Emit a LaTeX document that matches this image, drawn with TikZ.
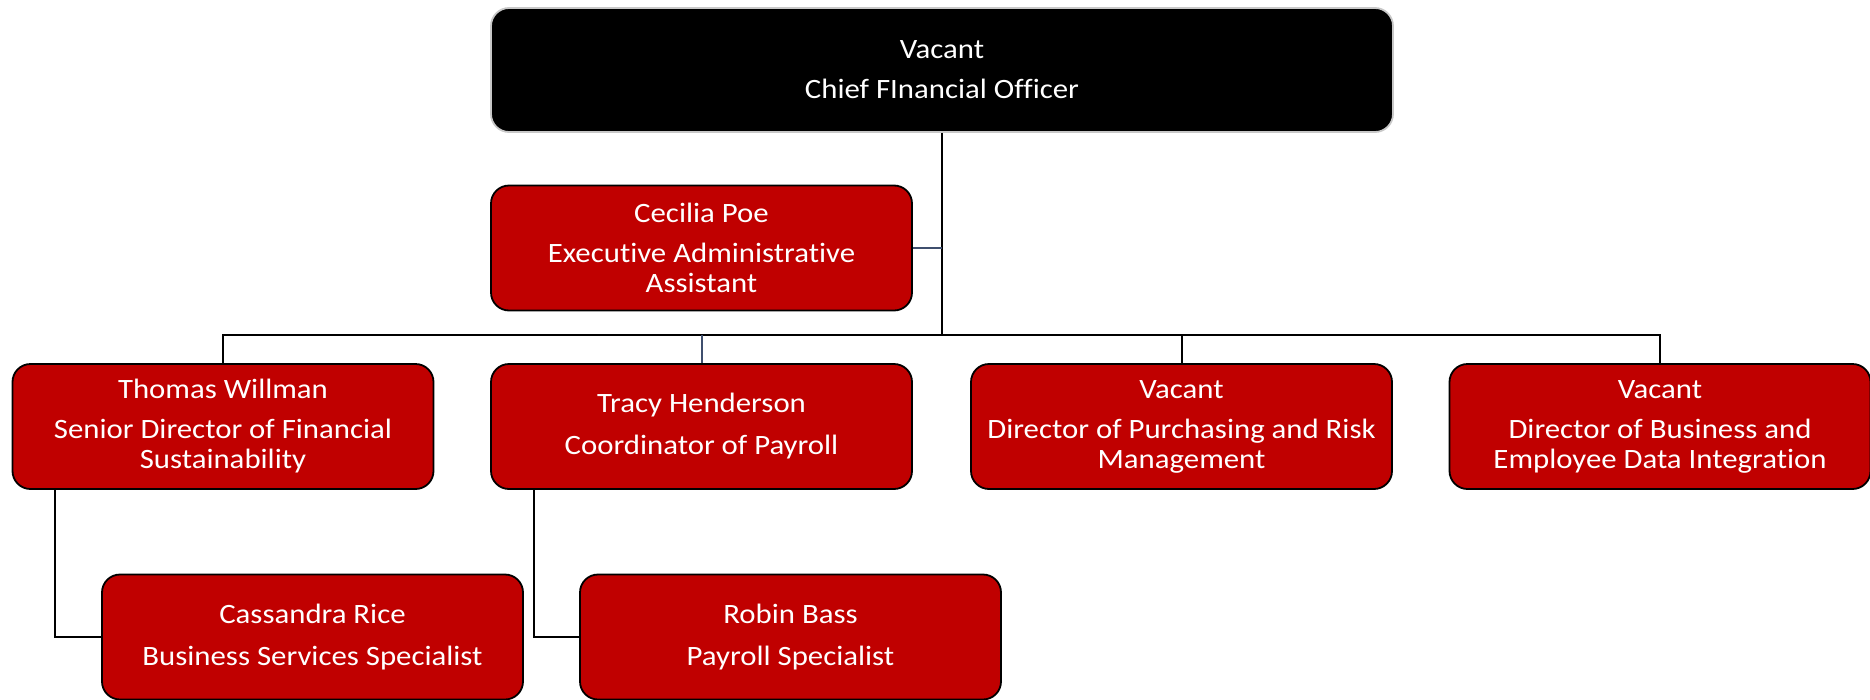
\documentclass[tikz,border=0pt]{standalone}
\usepackage{fontspec}
\setmainfont{Carlito}[FakeStretch=1.1, Ligatures=NoCommon]
\definecolor{boxred}{HTML}{C00000}
\definecolor{linkblue}{HTML}{3F4F6E}
\definecolor{cfoedge}{HTML}{C8C8C8}
\begin{document}
\begin{tikzpicture}[x=1pt,y=-1pt,
  box/.style={draw=black, line width=1.8pt, fill=boxred, rounded corners=18pt,
    minimum width=421pt, minimum height=125pt, text=white, align=center,
    font=\fontsize{28}{30}\selectfont, inner sep=0pt},
  topbox/.style={box, fill=black, draw=cfoedge, minimum width=902pt, minimum height=124pt},
  link/.style={line width=2pt, draw=black},
  bluelink/.style={line width=2pt, draw=linkblue}]
\useasboundingbox (0,0) rectangle (1870,699);

\node[topbox] (cfo) at (942,70) {Vacant\\[10pt]Chief FInancial Officer};
\node[box] (asst) at (701.5,248) {Cecilia Poe\\[10pt]Executive Administrative\\Assistant};

\node[box] (d1) at (223,426.5) {Thomas Willman\\[10pt]Senior Director of Financial\\Sustainability};
\node[box] (d2) at (701.5,426.5) {Tracy Henderson\\[12pt]Coordinator of Payroll};
\node[box] (d3) at (1181.5,426.5) {Vacant\\[10pt]Director of Purchasing and Risk\\Management};
\node[box] (d4) at (1660,426.5) {Vacant\\[10pt]Director of Business and\\Employee Data Integration};

\node[box] (c1) at (312.5,637) {Cassandra Rice\\[12pt]Business Services Specialist};
\node[box] (c2) at (790.5,637) {Robin Bass\\[12pt]Payroll Specialist};

\coordinate (j) at (942,335);

\draw[link] (cfo.south) -- (j);
\draw[bluelink] (asst.east) -- (asst.east -| j);
\draw[link] (d1.north) |- (j);
\draw[link] (d3.north) |- (j);
\draw[link] (d4.north) |- (j);
\draw[bluelink] (d2.north) -- (d2.north |- j);

\draw[link] ([xshift=-168pt]d1.south) |- (c1.west);
\draw[link] ([xshift=-168pt]d2.south) |- (c2.west);
\end{tikzpicture}
\end{document}
